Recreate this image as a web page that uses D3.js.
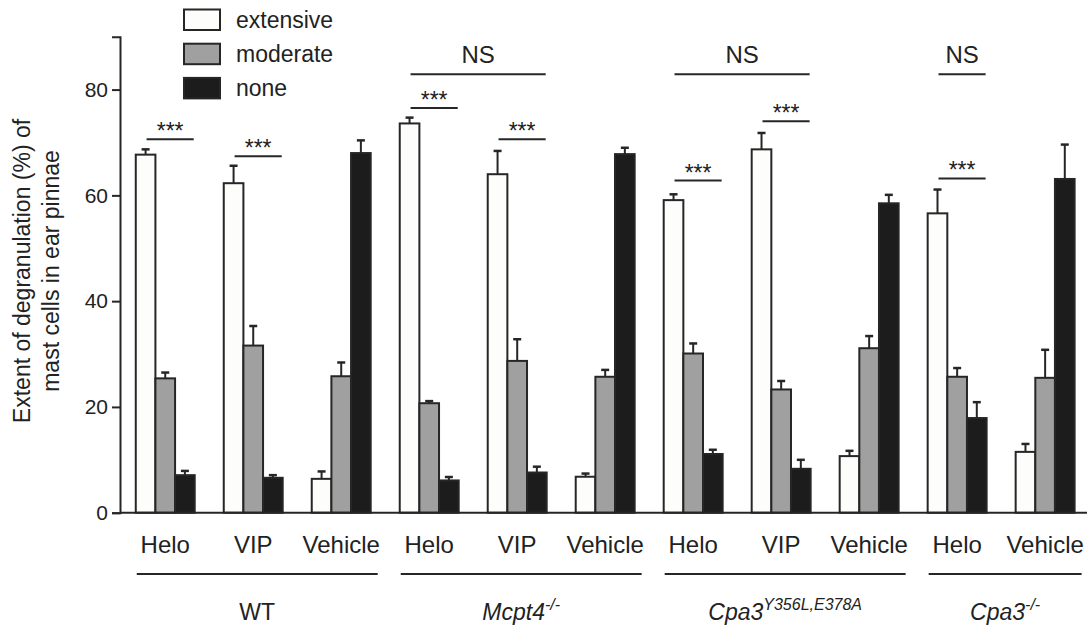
<!DOCTYPE html>
<html>
<head>
<meta charset="utf-8">
<script src="https://cdn.jsdelivr.net/npm/d3@7"></script>
<style>
  body { margin: 0; background: #fff; }
  svg text { font-family: Arial, "Liberation Sans", sans-serif; fill: #222; }
</style>
</head>
<body>
<svg width="1090" height="628"></svg>
<script>
// treatments, one cluster of three bars each
let treatments = ["Helo", "VIP", "Vehicle", "Helo", "VIP", "Vehicle", "Helo", "VIP", "Vehicle", "Helo", "Vehicle"];
let clusterGroup = [0, 0, 0, 1, 1, 1, 2, 2, 2, 3, 3];
let series = ["extensive", "moderate", "none"];

let extensive    = [67.7, 62.3, 6.4, 73.6, 64.0, 6.8, 59.1, 68.7, 10.7, 56.6, 11.5];
let extensiveErr = [1.0, 3.3, 1.4, 1.1, 4.4, 0.6, 1.1, 3.1, 1.0, 4.5, 1.5];
let moderate     = [25.4, 31.6, 25.8, 20.7, 28.7, 25.7, 30.1, 23.3, 31.1, 25.7, 25.5];
let moderateErr  = [1.1, 3.7, 2.6, 0.4, 4.1, 1.3, 1.9, 1.6, 2.3, 1.65, 5.3];
let none         = [7.1, 6.6, 68.0, 6.1, 7.6, 67.8, 11.1, 8.3, 58.5, 17.9, 63.1];
let noneErr      = [0.8, 0.5, 2.4, 0.65, 1.1, 1.2, 0.8, 1.7, 1.6, 3.0, 6.5];

let yTicks = [0, 20, 40, 60, 80];

// significance marks: cluster span and height (in % units)
let stars = [[0, 0, 70.6], [1, 1, 67.4], [3, 3, 76.5], [4, 4, 70.6], [6, 6, 62.8], [7, 7, 74.0], [9, 9, 63.2]];
let nsMarks = [[3, 4, 82.9], [6, 7, 82.9], [9, 9, 82.9]];

let svg = d3.select("svg");
let ink = "#262626";
let colors = d3.scaleOrdinal(series, ["#fdfdfb", "#a0a0a0", "#1c1c1c"]);

let values = [extensive, moderate, none];
let errors = [extensiveErr, moderateErr, noneErr];

let y = d3.scaleLinear().domain([0, 90]).range([512.7, 36.7]);

let x0 = d3.scaleBand()
    .domain(d3.range(treatments.length))
    .range([120, 1087])
    .paddingInner(0.33)
    .paddingOuter(0.16)
    .align(0.56);

let x1 = d3.scaleBand()
    .domain(series)
    .range([0, x0.bandwidth()]);

// bars
let clusters = svg.append("g")
    .selectAll("g")
    .data(d3.range(treatments.length))
    .enter().append("g")
        .attr("transform", i => `translate(${x0(i)},0)`);

let bars = clusters.selectAll("g")
    .data(i => series.map((s, k) => ({ s: s, v: values[k][i], e: errors[k][i] })))
    .enter().append("g");

bars.append("line")
    .attr("x1", d => x1(d.s) + x1.bandwidth() / 2)
    .attr("x2", d => x1(d.s) + x1.bandwidth() / 2)
    .attr("y1", d => y(d.v))
    .attr("y2", d => y(d.v + d.e))
    .attr("stroke", ink)
    .attr("stroke-width", 2);

bars.append("line")
    .attr("x1", d => x1(d.s) + x1.bandwidth() / 2 - 4)
    .attr("x2", d => x1(d.s) + x1.bandwidth() / 2 + 4)
    .attr("y1", d => y(d.v + d.e))
    .attr("y2", d => y(d.v + d.e))
    .attr("stroke", ink)
    .attr("stroke-width", 2.5);

bars.append("rect")
    .attr("x", d => x1(d.s))
    .attr("y", d => y(d.v))
    .attr("width", x1.bandwidth())
    .attr("height", d => y(0) - y(d.v))
    .attr("fill", d => colors(d.s))
    .attr("stroke", ink)
    .attr("stroke-width", 2);

// axes
let yAxis = svg.append("g")
    .attr("transform", "translate(120,0)")
    .call(d3.axisLeft(y).tickValues(yTicks).tickSize(8).tickPadding(4));
yAxis.select(".domain").attr("stroke", ink).attr("stroke-width", 2);
yAxis.selectAll(".tick line").attr("stroke", ink).attr("stroke-width", 2);
yAxis.selectAll(".tick text").attr("font-size", 21).style("fill", "#222");

svg.append("line")
    .attr("x1", 120).attr("x2", 1087)
    .attr("y1", y(0)).attr("y2", y(0))
    .attr("stroke", ink).attr("stroke-width", 2);

svg.append("text")
    .attr("transform", "translate(30,271) rotate(-90)")
    .attr("text-anchor", "middle")
    .attr("font-size", 23)
    .text("Extent of degranulation (%) of");
svg.append("text")
    .attr("transform", "translate(59,271) rotate(-90)")
    .attr("text-anchor", "middle")
    .attr("font-size", 23)
    .text("mast cells in ear pinnae");

// treatment labels
svg.append("g")
    .selectAll("text")
    .data(treatments)
    .enter().append("text")
        .attr("x", (d, i) => x0(i) + x0.bandwidth() / 2)
        .attr("y", 553)
        .attr("text-anchor", "middle")
        .attr("font-size", 24)
        .text(d => d);

// genotype groups
let groupSpans = d3.range(4).map(g => {
    let idx = d3.range(treatments.length).filter(i => clusterGroup[i] === g);
    return [x0(idx[0]) + 1, x0(idx[idx.length - 1]) + x0.bandwidth() + 7];
});

svg.append("g")
    .selectAll("line")
    .data(groupSpans)
    .enter().append("line")
        .attr("x1", d => d[0]).attr("x2", d => d[1])
        .attr("y1", 574).attr("y2", 574)
        .attr("stroke", ink).attr("stroke-width", 2);

let gl = svg.append("g")
    .selectAll("text")
    .data(groupSpans)
    .enter().append("text")
        .attr("x", d => (d[0] + d[1]) / 2)
        .attr("y", 620)
        .attr("text-anchor", "middle")
        .attr("font-size", 23);

gl.each(function (d, i) {
    let t = d3.select(this);
    if (i === 0) { t.text("WT"); return; }
    let base = ["", "Mcpt4", "Cpa3", "Cpa3"][i];
    let sup = ["", "-/-", "Y356L,E378A", "-/-"][i];
    t.append("tspan").attr("font-style", "italic").text(base);
    t.append("tspan")
        .attr("font-style", "italic")
        .attr("font-size", 16)
        .attr("dy", -10)
        .text(sup);
});

// significance
let sig = svg.append("g");
stars.concat(nsMarks).forEach((m, k) => {
    let xa = x0(m[0]) + x1.bandwidth() / 2 + 1;
    let xb = x0(m[1]) + x0.bandwidth() - 1;
    sig.append("line")
        .attr("x1", xa).attr("x2", xb)
        .attr("y1", y(m[2])).attr("y2", y(m[2]))
        .attr("stroke", ink).attr("stroke-width", 2);
    let isNs = k >= stars.length;
    sig.append("text")
        .attr("x", (xa + xb) / 2)
        .attr("y", isNs ? y(m[2]) - 11 : y(m[2]))
        .attr("text-anchor", "middle")
        .attr("font-size", isNs ? 24 : 23)
        .text(isNs ? "NS" : "***");
});

// legend
let legend = svg.append("g")
    .selectAll("g")
    .data(series)
    .enter().append("g")
        .attr("transform", (d, i) => `translate(184,${9.5 + i * 34.2})`);

legend.append("rect")
    .attr("width", 36).attr("height", 20.5)
    .attr("fill", d => colors(d))
    .attr("stroke", ink).attr("stroke-width", 2);

legend.append("text")
    .attr("x", 52).attr("y", 18)
    .attr("font-size", 23)
    .text(d => d);
</script>
</body>
</html>
